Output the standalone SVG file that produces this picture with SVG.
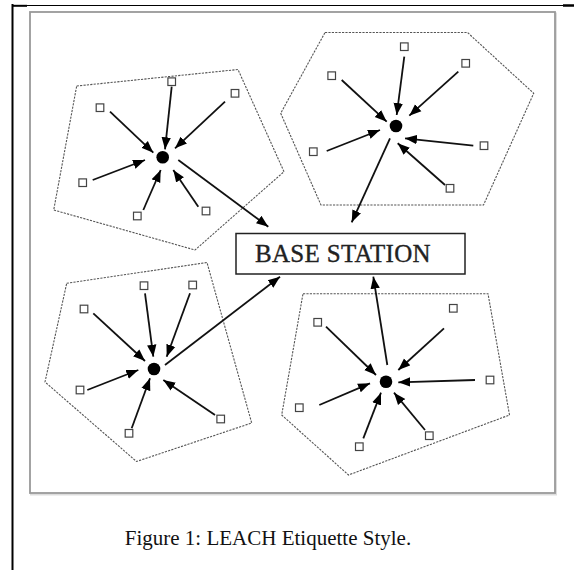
<svg xmlns="http://www.w3.org/2000/svg" width="574" height="570" viewBox="0 0 574 570">
<style>
.zone{fill:none;stroke:#555;stroke-width:1.1;stroke-dasharray:2.2 1.2}
.sn{fill:#fff;stroke:#444;stroke-width:1.2}
.ch{fill:#000}
.ar{stroke:#111;stroke-width:1.8;fill:none;marker-end:url(#ah)}
.bs{fill:#fff;stroke:#222;stroke-width:1.5}
.bst{font-family:"Liberation Serif",serif;font-size:25px;fill:#222;stroke:#222;stroke-width:0.35;letter-spacing:0.3px}
.cap{font-family:"Liberation Serif",serif;font-size:21px;fill:#111}
</style>
<defs>
<marker id="ah" markerWidth="13" markerHeight="11" refX="12" refY="5.5" orient="auto" markerUnits="userSpaceOnUse">
<path d="M0,0.8 L12,5.5 L0,10.2 z" fill="#000"/>
</marker>
</defs>
<rect width="574" height="570" fill="#fff"/>
<g id="frame">
<line x1="12.5" y1="4" x2="12.5" y2="570" stroke="#000" stroke-width="2"/>
<line x1="12" y1="5.5" x2="563" y2="5.5" stroke="#000" stroke-width="1"/>
<line x1="12" y1="5.8" x2="27" y2="5.8" stroke="#000" stroke-width="2"/>
<line x1="563" y1="5.5" x2="574" y2="5.5" stroke="#000" stroke-width="2.5"/>
<rect x="31" y="13.5" width="525" height="481" fill="none" stroke="#ddd" stroke-width="2"/>
<rect x="30" y="12" width="525" height="481" fill="#fff" stroke="#999" stroke-width="1.8"/>
</g>
<g id="zones">
<polygon class="zone" points="76.7,86 238,69.5 284,171.7 195,250 53.7,210"/>
<polygon class="zone" points="325,32.5 467.5,32.5 533.7,93.3 483.5,205 321,205 280.7,113.3"/>
<polygon class="zone" points="66.7,283.3 207,262.5 251.7,423 136.5,461.5 45,382"/>
<polygon class="zone" points="303,293.7 488,293.7 509.5,415 348.5,475 281.7,415"/>
</g>
<g id="connectors">
<line class="ar" x1="110" y1="111.7" x2="153.3" y2="152.7"/>
<line class="ar" x1="171.7" y1="86.7" x2="165" y2="149.3"/>
<line class="ar" x1="225" y1="101.7" x2="175" y2="148.3"/>
<line class="ar" x1="92.7" y1="180" x2="145" y2="160"/>
<line class="ar" x1="143.3" y1="210" x2="160.7" y2="170"/>
<line class="ar" x1="198.3" y1="206.7" x2="173.3" y2="170"/>
<line class="ar" x1="178.3" y1="160" x2="268.3" y2="226.7"/>
<line class="ar" x1="404.3" y1="56.7" x2="396.7" y2="115"/>
<line class="ar" x1="458.3" y1="71.7" x2="409.3" y2="115.7"/>
<line class="ar" x1="341.7" y1="80" x2="386.7" y2="121.7"/>
<line class="ar" x1="326.7" y1="151" x2="380" y2="130"/>
<line class="ar" x1="473.3" y1="145.7" x2="405" y2="138.3"/>
<line class="ar" x1="445" y1="185" x2="397.7" y2="143.3"/>
<line class="ar" x1="390" y1="138.3" x2="351.7" y2="222.3"/>
<line class="ar" x1="93.3" y1="313.3" x2="145" y2="361"/>
<line class="ar" x1="145" y1="293.3" x2="153.3" y2="356.7"/>
<line class="ar" x1="190" y1="293.3" x2="166.7" y2="356.7"/>
<line class="ar" x1="87.3" y1="390" x2="138.3" y2="370"/>
<line class="ar" x1="131.7" y1="428.3" x2="150" y2="378.3"/>
<line class="ar" x1="215" y1="415" x2="163.3" y2="380"/>
<line class="ar" x1="165" y1="365" x2="280" y2="276.7"/>
<line class="ar" x1="326" y1="326.7" x2="376" y2="375"/>
<line class="ar" x1="444" y1="328.3" x2="398.3" y2="370"/>
<line class="ar" x1="475" y1="380" x2="398.3" y2="382.3"/>
<line class="ar" x1="319.3" y1="405" x2="370" y2="383.3"/>
<line class="ar" x1="363.3" y1="438.3" x2="381" y2="392.7"/>
<line class="ar" x1="425" y1="430" x2="394" y2="392.7"/>
<line class="ar" x1="387.3" y1="365" x2="373.3" y2="276.7"/>
</g>
<g id="base-station">
<rect class="bs" x="236" y="233.5" width="229" height="40.5"/>
<text class="bst" x="343" y="261.5" text-anchor="middle">BASE STATION</text>
</g>
<g id="head1"><circle class="ch" cx="162.7" cy="157.3" r="6.3"/></g>
<g id="head2"><circle class="ch" cx="396" cy="126" r="6.3"/></g>
<g id="head3"><circle class="ch" cx="154" cy="369" r="6.3"/></g>
<g id="head4"><circle class="ch" cx="386" cy="381.7" r="6.3"/></g>
<g id="n1a"><rect class="sn" x="96.2" y="103.9" width="7.6" height="7.6"/></g>
<g id="n1b"><rect class="sn" x="167.9" y="77.9" width="7.6" height="7.6"/></g>
<g id="n1c"><rect class="sn" x="231.2" y="89.5" width="7.6" height="7.6"/></g>
<g id="n1d"><rect class="sn" x="78.9" y="178.9" width="7.6" height="7.6"/></g>
<g id="n1e"><rect class="sn" x="133.5" y="212.2" width="7.6" height="7.6"/></g>
<g id="n1f"><rect class="sn" x="202.2" y="207.2" width="7.6" height="7.6"/></g>
<g id="n2a"><rect class="sn" x="400.5" y="42.9" width="7.6" height="7.6"/></g>
<g id="n2b"><rect class="sn" x="461.9" y="59.5" width="7.6" height="7.6"/></g>
<g id="n2c"><rect class="sn" x="327.9" y="71.9" width="7.6" height="7.6"/></g>
<g id="n2d"><rect class="sn" x="309.5" y="147.9" width="7.6" height="7.6"/></g>
<g id="n2e"><rect class="sn" x="480.2" y="141.9" width="7.6" height="7.6"/></g>
<g id="n2f"><rect class="sn" x="446.2" y="184.5" width="7.6" height="7.6"/></g>
<g id="n3a"><rect class="sn" x="80.2" y="305.2" width="7.6" height="7.6"/></g>
<g id="n3b"><rect class="sn" x="140.2" y="281.9" width="7.6" height="7.6"/></g>
<g id="n3c"><rect class="sn" x="188.9" y="281.2" width="7.6" height="7.6"/></g>
<g id="n3d"><rect class="sn" x="76.2" y="386.2" width="7.6" height="7.6"/></g>
<g id="n3e"><rect class="sn" x="125.2" y="429.5" width="7.6" height="7.6"/></g>
<g id="n3f"><rect class="sn" x="216.9" y="415.2" width="7.6" height="7.6"/></g>
<g id="n4a"><rect class="sn" x="313.9" y="318.5" width="7.6" height="7.6"/></g>
<g id="n4b"><rect class="sn" x="449.5" y="304.5" width="7.6" height="7.6"/></g>
<g id="n4c"><rect class="sn" x="486.2" y="376.2" width="7.6" height="7.6"/></g>
<g id="n4d"><rect class="sn" x="295.5" y="403.9" width="7.6" height="7.6"/></g>
<g id="n4e"><rect class="sn" x="355.5" y="442.9" width="7.6" height="7.6"/></g>
<g id="n4f"><rect class="sn" x="425.5" y="431.9" width="7.6" height="7.6"/></g>
<text class="cap" x="268" y="545" text-anchor="middle">Figure 1: LEACH Etiquette Style.</text>
</svg>
